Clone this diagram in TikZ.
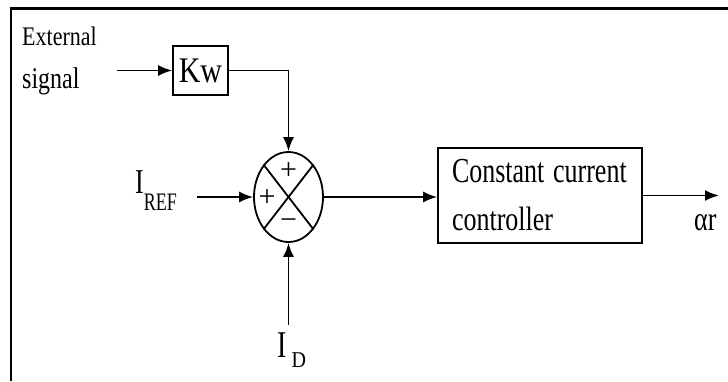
\documentclass[tikz,border=0pt]{standalone}
\usepackage{fontspec}
\setmainfont{Liberation Serif}
\usetikzlibrary{arrows.meta,shapes.geometric}
\newcommand{\fsz}[2]{\fontsize{#1}{#2}\selectfont}
\newcommand{\ys}[2]{\scalebox{1}[#1]{#2}}
\tikzset{
  conn/.style={line width=1.8pt},
  arr/.style={conn,-{Latex[length=14pt,width=11pt]}},
  blockbox/.style={draw,line width=1.8pt,inner sep=0pt},
  txt/.style={inner sep=0pt,anchor=base west},
  sgn/.style={inner sep=0pt,font=\fsz{30}{30}}
}
\begin{document}
\begin{tikzpicture}[x=1pt,y=-1pt]
\useasboundingbox (0,0) rectangle (728,381);
% frame
\draw[line width=2.5pt] (11,381) -- (11,8.5) -- (728,8.5);
% external signal
\node[txt] (ext1) at (22,45) {\fsz{22}{22}\ys{1.22}{External}};
\node[txt] (ext2) at (22,88) {\fsz{24}{24}\ys{1.25}{signal}};
\coordinate (extin) at (117,70.5);
\node[blockbox,minimum width=55pt,minimum height=49pt] (kw) at (200.5,70.5) {\fsz{30}{30}\ys{1.2}{Kw}};
% summing junction
\node[draw,ellipse,line width=1.8pt,minimum width=69pt,minimum height=90pt,inner sep=0pt] (sum) at (288.5,197) {};
\draw[conn] (sum.north west) -- (sum.south east);
\draw[conn] (sum.north east) -- (sum.south west);
\node[sgn] (p1) at (288.5,171) {+};
\node[sgn] (p2) at (267,198) {+};
\node[sgn] (m1) at (288.5,224) {−};
% I_REF
\node[txt] (iref) at (135,193) {\fsz{26}{26}\ys{1.34}{I}\raisebox{-17pt}{\fsz{18}{18}\ys{1.4}{REF}}};
\coordinate (irefin) at (197,197);
% I_D
\node[txt] (id) at (277,357) {\fsz{28}{28}\ys{1.35}{I}\hspace{5pt}\raisebox{-10pt}{\fsz{20}{20}\ys{1.13}{D}}};
\coordinate (idin) at (288.5,325);
% controller
\node[blockbox,minimum width=204pt,minimum height=95pt,text width=176pt,inner xsep=14pt,align=left,font=\fsz{26}{48}] (ctl) at (540,195.5)
  {\ys{1.35}{Constant current}\\\ys{1.3}{controller}};
\coordinate (out) at (719,195.5);
\node[txt] (ar) at (694,230) {\fsz{26}{26}\ys{1.3}{αr}};
% connectors
\draw[arr] (extin) -- (kw.west);
\draw[arr] (kw.east) -| (sum.north);
\draw[arr] (irefin) -- (sum.west);
\draw[arr] (idin) -- (sum.south);
\draw[arr] (sum.east) -- (sum.east -| ctl.west);
\draw[arr] (ctl.east) -- (out);
\end{tikzpicture}
\end{document}
